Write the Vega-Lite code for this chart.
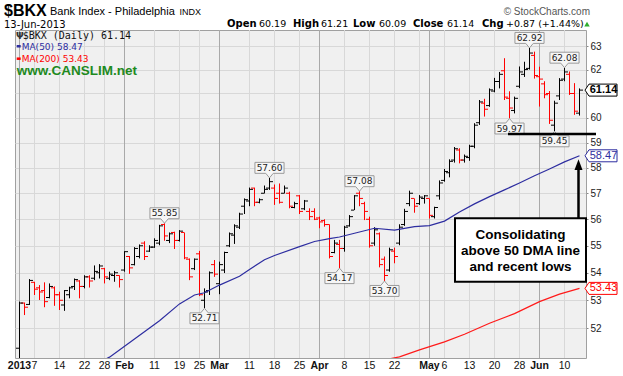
{
"$schema":"https://vega.github.io/schema/vega-lite/v6.json",
"width":571,"height":328,
"autosize":{"type":"none"},
"padding":{"left":15,"top":30,"right":37,"bottom":18},
"background":"#ffffff",
"config":{"view":{"fill":"#f0f0f0","stroke":"#a0a0a0","strokeWidth":1}},
"datasets":{
"one":[{"k":0}],
"tags":[{"name":"close","v":61.14},{"name":"ma50","v":58.47},{"name":"ma200","v":53.43}],
"bars":[
{"d":"2013-01-02","o":51.3,"h":52.95,"l":50.8,"c":52.9},
{"d":"2013-01-03","o":52.9,"h":52.92,"l":52.47,"c":52.75},
{"d":"2013-01-04","o":52.85,"h":53.77,"l":52.83,"c":53.72},
{"d":"2013-01-07","o":53.65,"h":53.67,"l":53.19,"c":53.4},
{"d":"2013-01-08","o":53.45,"h":53.55,"l":53.01,"c":53.3},
{"d":"2013-01-09","o":53.35,"h":53.65,"l":52.75,"c":52.95},
{"d":"2013-01-10","o":53.1,"h":53.61,"l":53.07,"c":53.5},
{"d":"2013-01-11","o":53.45,"h":53.5,"l":52.8,"c":53.2},
{"d":"2013-01-14","o":53.2,"h":53.31,"l":52.65,"c":53.0},
{"d":"2013-01-15","o":52.83,"h":53.37,"l":52.62,"c":53.35},
{"d":"2013-01-16","o":53.2,"h":53.49,"l":53.07,"c":53.45},
{"d":"2013-01-17","o":53.5,"h":53.79,"l":53.37,"c":53.75},
{"d":"2013-01-18","o":53.7,"h":53.73,"l":53.07,"c":53.5},
{"d":"2013-01-22","o":53.5,"h":53.91,"l":53.43,"c":53.85},
{"d":"2013-01-23","o":53.85,"h":53.91,"l":53.46,"c":53.7},
{"d":"2013-01-24","o":53.8,"h":54.27,"l":53.73,"c":54.05},
{"d":"2013-01-25","o":54.0,"h":54.32,"l":53.79,"c":54.25},
{"d":"2013-01-28","o":54.15,"h":54.18,"l":53.61,"c":53.85,"m50":50.9},
{"d":"2013-01-29","o":53.8,"h":54.04,"l":53.73,"c":53.95,"m50":50.99},
{"d":"2013-01-30","o":53.9,"h":54.07,"l":53.67,"c":54.0},
{"d":"2013-01-31","o":53.9,"h":53.91,"l":53.46,"c":53.75},
{"d":"2013-02-01","o":54.1,"h":54.8,"l":54.04,"c":54.78},
{"d":"2013-02-04","o":54.6,"h":54.62,"l":53.96,"c":54.18},
{"d":"2013-02-05","o":54.3,"h":54.95,"l":54.27,"c":54.9,"m50":51.62},
{"d":"2013-02-06","o":54.6,"h":55.05,"l":54.53,"c":55.0},
{"d":"2013-02-07","o":55.1,"h":55.17,"l":54.47,"c":54.6},
{"d":"2013-02-08","o":54.8,"h":55.02,"l":54.77,"c":54.95},
{"d":"2013-02-11","o":54.95,"h":55.28,"l":54.92,"c":55.2},
{"d":"2013-02-12","o":55.1,"h":55.79,"l":55.02,"c":55.75,"m50":52.27},
{"d":"2013-02-13","o":55.8,"h":55.85,"l":55.19,"c":55.37,"k":"hi"},
{"d":"2013-02-14","o":55.2,"h":55.5,"l":55.1,"c":55.45},
{"d":"2013-02-15","o":55.5,"h":55.53,"l":54.88,"c":55.2},
{"d":"2013-02-19","o":55.2,"h":55.59,"l":55.16,"c":55.55,"m50":52.87},
{"d":"2013-02-20","o":55.5,"h":55.5,"l":54.5,"c":54.55},
{"d":"2013-02-21","o":54.5,"h":54.53,"l":53.73,"c":53.85},
{"d":"2013-02-22","o":54.15,"h":54.53,"l":54.1,"c":54.5,"m50":53.19},
{"d":"2013-02-25","o":54.7,"h":54.81,"l":53.15,"c":53.2},
{"d":"2013-02-26","o":53.0,"h":53.43,"l":52.71,"c":53.3,"k":"lo","m50":53.27},
{"d":"2013-02-27","o":53.35,"h":54.05,"l":53.19,"c":54.0},
{"d":"2013-02-28","o":54.3,"h":54.47,"l":53.85,"c":53.95},
{"d":"2013-03-01","o":53.6,"h":54.41,"l":53.22,"c":54.3,"m50":53.55},
{"d":"2013-03-04","o":54.1,"h":54.78,"l":53.99,"c":54.75},
{"d":"2013-03-05","o":55.0,"h":55.5,"l":54.95,"c":55.45},
{"d":"2013-03-06","o":55.4,"h":55.81,"l":55.07,"c":55.75},
{"d":"2013-03-07","o":55.7,"h":56.25,"l":55.63,"c":56.2,"m50":53.87},
{"d":"2013-03-08","o":56.5,"h":56.8,"l":56.2,"c":56.75},
{"d":"2013-03-11","o":56.7,"h":57.22,"l":56.5,"c":57.15,"m50":54.12},
{"d":"2013-03-12","o":57.2,"h":57.22,"l":56.5,"c":56.65},
{"d":"2013-03-13","o":56.65,"h":56.8,"l":56.61,"c":56.75},
{"d":"2013-03-14","o":57.0,"h":57.3,"l":56.99,"c":57.15,"m50":54.48},
{"d":"2013-03-15","o":57.2,"h":57.6,"l":57.13,"c":57.45,"k":"hi"},
{"d":"2013-03-18","o":57.2,"h":57.34,"l":56.55,"c":56.8,"m50":54.64},
{"d":"2013-03-19","o":57.0,"h":57.38,"l":56.6,"c":56.65},
{"d":"2013-03-20","o":57.0,"h":57.3,"l":56.99,"c":57.2},
{"d":"2013-03-21","o":57.0,"h":57.06,"l":56.42,"c":56.5},
{"d":"2013-03-22","o":56.45,"h":56.67,"l":56.42,"c":56.6},
{"d":"2013-03-25","o":56.9,"h":56.93,"l":56.2,"c":56.3,"m50":54.97},
{"d":"2013-03-26","o":56.4,"h":56.74,"l":56.35,"c":56.7},
{"d":"2013-03-27","o":56.3,"h":56.42,"l":55.97,"c":56.1},
{"d":"2013-03-28","o":56.3,"h":56.42,"l":55.97,"c":56.0,"m50":55.16},
{"d":"2013-04-01","o":56.05,"h":56.1,"l":55.66,"c":55.9},
{"d":"2013-04-02","o":55.95,"h":56.0,"l":55.72,"c":55.8},
{"d":"2013-04-03","o":55.8,"h":55.81,"l":54.53,"c":54.6,"m50":55.27},
{"d":"2013-04-04","o":54.75,"h":55.22,"l":54.72,"c":55.1},
{"d":"2013-04-05","o":55.05,"h":55.22,"l":54.17,"c":54.9,"k":"lo","m50":55.33},
{"d":"2013-04-08","o":54.9,"h":55.75,"l":54.78,"c":55.7},
{"d":"2013-04-09","o":55.75,"h":56.16,"l":55.72,"c":56.1},
{"d":"2013-04-10","o":56.35,"h":56.93,"l":56.35,"c":56.9,"m50":55.47},
{"d":"2013-04-11","o":57.0,"h":57.08,"l":56.5,"c":56.8,"k":"hi"},
{"d":"2013-04-12","o":56.6,"h":56.67,"l":55.97,"c":56.3},
{"d":"2013-04-15","o":56.0,"h":56.1,"l":54.93,"c":55.0},
{"d":"2013-04-16","o":55.1,"h":55.7,"l":55.0,"c":55.6,"m50":55.66},
{"d":"2013-04-17","o":55.45,"h":55.5,"l":54.2,"c":54.3},
{"d":"2013-04-18","o":54.5,"h":54.6,"l":53.7,"c":53.9,"k":"lo"},
{"d":"2013-04-19","o":54.1,"h":54.93,"l":54.04,"c":54.85,"m200":50.93},
{"d":"2013-04-22","o":54.8,"h":54.93,"l":54.35,"c":54.6,"m50":55.59},
{"d":"2013-04-23","o":55.1,"h":55.81,"l":55.02,"c":55.7,"m200":51.0},
{"d":"2013-04-24","o":55.8,"h":56.4,"l":55.75,"c":56.3},
{"d":"2013-04-25","o":56.6,"h":57.1,"l":56.5,"c":57.0},
{"d":"2013-04-26","o":56.8,"h":56.8,"l":56.25,"c":56.5,"m50":55.72},
{"d":"2013-04-29","o":56.6,"h":56.93,"l":56.55,"c":56.85,"m200":51.24},
{"d":"2013-04-30","o":56.8,"h":56.93,"l":56.6,"c":56.9},
{"d":"2013-05-01","o":56.8,"h":56.8,"l":56.03,"c":56.15,"m50":55.76},
{"d":"2013-05-02","o":56.1,"h":56.48,"l":56.03,"c":56.45},
{"d":"2013-05-03","o":56.9,"h":57.5,"l":56.75,"c":57.4},
{"d":"2013-05-06","o":57.5,"h":57.95,"l":57.45,"c":57.85,"m50":55.93,"m200":51.52},
{"d":"2013-05-07","o":57.8,"h":58.33,"l":57.62,"c":58.25},
{"d":"2013-05-08","o":58.3,"h":58.82,"l":58.2,"c":58.75},
{"d":"2013-05-09","o":58.7,"h":58.77,"l":58.17,"c":58.3,"m50":56.28},
{"d":"2013-05-10","o":58.3,"h":58.52,"l":58.2,"c":58.45,"m200":51.79},
{"d":"2013-05-13","o":58.4,"h":58.91,"l":58.27,"c":58.85},
{"d":"2013-05-14","o":58.85,"h":59.78,"l":58.77,"c":59.7,"m50":56.59},
{"d":"2013-05-15","o":59.8,"h":60.73,"l":59.71,"c":60.65},
{"d":"2013-05-16","o":60.6,"h":60.78,"l":60.05,"c":60.35},
{"d":"2013-05-17","o":60.5,"h":61.21,"l":60.45,"c":61.15,"m50":56.87,"m200":52.18},
{"d":"2013-05-20","o":61.1,"h":61.65,"l":61.05,"c":61.5},
{"d":"2013-05-21","o":61.5,"h":61.9,"l":61.21,"c":61.8},
{"d":"2013-05-22","o":61.95,"h":62.48,"l":60.73,"c":60.85,"m50":57.13},
{"d":"2013-05-23","o":60.8,"h":61.09,"l":59.97,"c":60.4,"k":"lo"},
{"d":"2013-05-24","o":60.3,"h":60.87,"l":60.18,"c":60.8,"m200":52.52},
{"d":"2013-05-28","o":61.3,"h":62.13,"l":61.22,"c":61.9,"m50":57.4},
{"d":"2013-05-29","o":61.8,"h":62.33,"l":61.69,"c":62.0},
{"d":"2013-05-30","o":62.05,"h":62.92,"l":62.0,"c":62.7,"k":"hi"},
{"d":"2013-05-31","o":62.6,"h":62.76,"l":61.62,"c":61.75,"m50":57.68},
{"d":"2013-06-03","o":61.7,"h":62.12,"l":60.46,"c":61.6,"m200":52.95},
{"d":"2013-06-04","o":61.4,"h":61.51,"l":60.8,"c":60.95},
{"d":"2013-06-05","o":61.0,"h":61.1,"l":59.75,"c":59.9,"m50":57.95},
{"d":"2013-06-06","o":59.7,"h":60.7,"l":59.45,"c":60.6,"k":"lo"},
{"d":"2013-06-07","o":60.9,"h":61.64,"l":60.73,"c":61.55,"m200":53.22},
{"d":"2013-06-10","o":61.6,"h":62.08,"l":61.51,"c":61.9,"k":"hi","m50":58.23},
{"d":"2013-06-11","o":61.8,"h":61.92,"l":60.94,"c":61.0},
{"d":"2013-06-12","o":61.0,"h":61.43,"l":60.12,"c":60.27},
{"d":"2013-06-13","o":60.19,"h":61.21,"l":60.09,"c":61.14,"m50":58.47,"m200":53.43}
]},
"layer":[
{"data":{"name":"bars"},
 "transform":[{"window":[{"op":"row_number","as":"n"},{"op":"lag","field":"d","as":"pd"}]},
  {"calculate":"(!isValid(datum.pd) || substring(datum.d,5,7) != substring(datum.pd,5,7)) ? datum.n : null","as":"msn"},
  {"window":[{"op":"max","field":"msn","as":"lastMs"}],"frame":[null,0]},
  {"filter":"!isValid(datum.msn) && isValid(datum.pd) && (toDate(datum.d) - toDate(datum.pd)) > 129600000 && (datum.n - datum.lastMs) > 1"}],
 "mark":{"type":"rule","color":"#d8d8d8","strokeWidth":1},
 "encoding":{"x":{"field":"n","type":"quantitative","scale":{"domain":[0.1,114.3],"nice":false,"zero":false},
   "axis":{"title":null,"labels":false,"ticks":false,"grid":false,"domain":false}}}},
{"data":{"name":"bars"},
 "transform":[{"window":[{"op":"row_number","as":"n"},{"op":"lag","field":"d","as":"pd"}]},
  {"filter":"!isValid(datum.pd) || substring(datum.d,5,7) != substring(datum.pd,5,7)"}],
 "mark":{"type":"rule","color":"#a9a9a9","strokeWidth":1},
 "encoding":{"x":{"field":"n","type":"quantitative"}}},
{"data":{"name":"bars"},
 "transform":[{"window":[{"op":"row_number","as":"n"},{"op":"lag","field":"c","as":"pc"}]}],
 "mark":{"type":"rule","strokeWidth":1,"clip":true},
 "encoding":{
  "x":{"field":"n","type":"quantitative"},
  "y":{"field":"l","type":"quantitative","scale":{"type":"log","domain":[50.96,63.69],"nice":false,"zero":false},
   "axis":{"title":null,"orient":"right","values":[52,53,54,55,56,57,58,59,60,61,62,63],"format":"d",
    "labelExpr":"datum.value == 61 ? '' : datum.label",
    "grid":true,"gridColor":"#d8d8d8","domain":false,"tickColor":"#888888","tickSize":2,
    "labelFont":"Liberation Sans","labelFontSize":10,"labelColor":"#222222","labelPadding":2,
    "labelFlush":false,"labelBound":false}},
  "y2":{"field":"h"},
  "color":{"condition":{"test":"datum.c < datum.pc","value":"#ff0000"},"value":"#000000"}
 }},
{"data":{"name":"bars"},
 "transform":[{"window":[{"op":"row_number","as":"n"},{"op":"lag","field":"d","as":"pd"}]},
  {"calculate":"(!isValid(datum.pd) || substring(datum.d,5,7) != substring(datum.pd,5,7)) ? datum.n : null","as":"msn"},
  {"window":[{"op":"max","field":"msn","as":"lastMs"}],"frame":[null,0]},
  {"window":[{"op":"min","field":"msn","as":"nextMs"}],"frame":[0,null]},
  {"filter":"!isValid(datum.msn) && isValid(datum.pd) && (toDate(datum.d) - toDate(datum.pd)) > 129600000 && (datum.n - datum.lastMs) > 1 && (!isValid(datum.nextMs) || (datum.nextMs - datum.n) > 2)"},
  {"calculate":"'' + toNumber(substring(datum.d,8,10))","as":"lab"}],
 "mark":{"type":"text","align":"center","baseline":"middle","font":"Liberation Sans","fontSize":10.5,"color":"#111111"},
 "encoding":{"x":{"field":"n","type":"quantitative"},"y":{"datum":50.67},"text":{"field":"lab"}}},
{"data":{"name":"bars"},
 "transform":[{"window":[{"op":"row_number","as":"n"},{"op":"lag","field":"d","as":"pd"}]},
  {"filter":"!isValid(datum.pd) || substring(datum.d,5,7) != substring(datum.pd,5,7)"},
  {"calculate":"substring(datum.d,5,7) == '01' ? utcFormat(toDate(datum.d), '%Y') : utcFormat(toDate(datum.d), '%b')","as":"lab"}],
 "mark":{"type":"text","align":"center","baseline":"middle","font":"Liberation Sans","fontSize":10.5,"fontWeight":"bold","color":"#111111"},
 "encoding":{"x":{"field":"n","type":"quantitative"},"y":{"datum":50.67},"text":{"field":"lab"}}},
{"data":{"name":"bars"},
 "transform":[{"window":[{"op":"row_number","as":"n"},{"op":"lag","field":"c","as":"pc"}]}],
 "mark":{"type":"tick","orient":"horizontal","size":3,"thickness":1,"xOffset":-2,"opacity":1,"clip":true},
 "encoding":{"x":{"field":"n","type":"quantitative"},"y":{"field":"o","type":"quantitative"},
  "color":{"condition":{"test":"datum.c < datum.pc","value":"#ff0000"},"value":"#000000"}}},
{"data":{"name":"bars"},
 "transform":[{"window":[{"op":"row_number","as":"n"},{"op":"lag","field":"c","as":"pc"}]}],
 "mark":{"type":"tick","orient":"horizontal","size":3,"thickness":1,"xOffset":2,"opacity":1,"clip":true},
 "encoding":{"x":{"field":"n","type":"quantitative"},"y":{"field":"c","type":"quantitative"},
  "color":{"condition":{"test":"datum.c < datum.pc","value":"#ff0000"},"value":"#000000"}}},
{"data":{"name":"bars"},
 "transform":[{"window":[{"op":"row_number","as":"n"}]},{"filter":"isValid(datum.m50)"}],
 "mark":{"type":"line","color":"#2d2da0","strokeWidth":1.2,"clip":true},
 "encoding":{"x":{"field":"n","type":"quantitative"},"y":{"field":"m50","type":"quantitative"}}},
{"data":{"name":"bars"},
 "transform":[{"window":[{"op":"row_number","as":"n"}]},{"filter":"isValid(datum.m200)"}],
 "mark":{"type":"line","color":"#ff1a1a","strokeWidth":1.2,"clip":true},
 "encoding":{"x":{"field":"n","type":"quantitative"},"y":{"field":"m200","type":"quantitative"}}},
{"data":{"name":"bars"},
 "transform":[{"window":[{"op":"row_number","as":"n"}]},{"filter":"datum.k == 'hi'"}],
 "mark":{"type":"point","shape":"M0,0L-0.25,-0.3L-0.97,-0.3L-0.97,-1.03L0.97,-1.03L0.97,-0.3L0.25,-0.3Z","size":900,"fill":"#f6f6f6","stroke":"#9a9a9a","strokeWidth":1,"opacity":1,"fillOpacity":1},
 "encoding":{"x":{"field":"n","type":"quantitative"},"y":{"field":"h","type":"quantitative"}}},
{"data":{"name":"bars"},
 "transform":[{"window":[{"op":"row_number","as":"n"}]},{"filter":"datum.k == 'hi'"}],
 "mark":{"type":"text","dy":-10,"baseline":"middle","align":"center","font":"DejaVu Sans","fontSize":9,"color":"#222222"},
 "encoding":{"x":{"field":"n","type":"quantitative"},"y":{"field":"h","type":"quantitative"},"text":{"field":"h","format":".2f"}}},
{"data":{"name":"bars"},
 "transform":[{"window":[{"op":"row_number","as":"n"}]},{"filter":"datum.k == 'lo'"}],
 "mark":{"type":"point","shape":"M0,0L-0.25,0.3L-0.97,0.3L-0.97,1.03L0.97,1.03L0.97,0.3L0.25,0.3Z","size":900,"fill":"#f6f6f6","stroke":"#9a9a9a","strokeWidth":1,"opacity":1,"fillOpacity":1},
 "encoding":{"x":{"field":"n","type":"quantitative"},"y":{"field":"l","type":"quantitative"}}},
{"data":{"name":"bars"},
 "transform":[{"window":[{"op":"row_number","as":"n"}]},{"filter":"datum.k == 'lo'"}],
 "mark":{"type":"text","dy":10,"baseline":"middle","align":"center","font":"DejaVu Sans","fontSize":9,"color":"#222222"},
 "encoding":{"x":{"field":"n","type":"quantitative"},"y":{"field":"l","type":"quantitative"},"text":{"field":"l","format":".2f"}}},
{"data":{"name":"one"},
 "mark":{"type":"rule","color":"#000000","strokeWidth":2.5},
 "encoding":{"x":{"datum":98.7},"x2":{"datum":116.3},"y":{"datum":59.34}}},
{"data":{"name":"one"},
 "mark":{"type":"rect","fill":"#ffffff","stroke":"#000000","strokeWidth":2},
 "encoding":{"x":{"datum":88.1},"x2":{"datum":114.3},"y":{"datum":56.04},"y2":{"datum":53.67}}},
{"data":{"name":"one"},
 "mark":{"type":"text","text":["Consolidating","above 50 DMA line","and recent lows"],"lineHeight":16,"align":"center","baseline":"middle","font":"Liberation Sans","fontSize":13.5,"fontWeight":"bold","color":"#000000"},
 "encoding":{"x":{"datum":101.2},"y":{"datum":55.42}}},
{"data":{"name":"one"},
 "mark":{"type":"rule","color":"#000000","strokeWidth":2.5},
 "encoding":{"x":{"datum":112.8},"y":{"datum":56.04},"y2":{"datum":57.95}}},
{"data":{"name":"one"},
 "mark":{"type":"point","shape":"M0,-1L0.75,1L-0.75,1Z","size":115,"fill":"#000000","strokeWidth":0,"opacity":1,"fillOpacity":1},
 "encoding":{"x":{"datum":112.8},"y":{"datum":58.12}}},
{"data":{"name":"tags"},
 "mark":{"type":"point","shape":"M-1,0L-0.75,-0.375L1,-0.375L1,0.375L-0.75,0.375Z","size":1024,"fill":"#ffffff","strokeWidth":1,"opacity":1,"fillOpacity":1},
 "encoding":{"x":{"datum":117.3},"y":{"field":"v","type":"quantitative"},
  "stroke":{"condition":[{"test":"datum.name == 'ma50'","value":"#2d2da0"},{"test":"datum.name == 'ma200'","value":"#ff0000"}],"value":"#000000"}}},
{"data":{"name":"tags"},
 "transform":[{"filter":"datum.name == 'close'"}],
 "mark":{"type":"text","align":"center","baseline":"middle","font":"Liberation Sans","fontSize":11,"fontWeight":"bold","color":"#000000"},
 "encoding":{"x":{"datum":117.8},"y":{"field":"v","type":"quantitative"},"text":{"field":"v","format":".2f"}}},
{"data":{"name":"tags"},
 "transform":[{"filter":"datum.name != 'close'"}],
 "mark":{"type":"text","align":"center","baseline":"middle","font":"Liberation Sans","fontSize":11},
 "encoding":{"x":{"datum":117.8},"y":{"field":"v","type":"quantitative"},"text":{"field":"v","format":".2f"},
  "color":{"condition":{"test":"datum.name == 'ma50'","value":"#2d2da0"},"value":"#ff0000"}}},
{"data":{"name":"one"},"mark":{"type":"text","text":"$BKX","align":"left","baseline":"alphabetic","font":"Liberation Sans","fontSize":16,"fontWeight":"bold","color":"#000000"},
 "encoding":{"x":{"datum":-2.1},"y":{"datum":64.3}}},
{"data":{"name":"one"},"mark":{"type":"text","text":"Bank Index - Philadelphia","align":"left","baseline":"alphabetic","font":"Liberation Sans","fontSize":11,"color":"#000000"},
 "encoding":{"x":{"datum":7.1},"y":{"datum":64.34}}},
{"data":{"name":"one"},"mark":{"type":"text","text":"INDX","align":"left","baseline":"alphabetic","font":"Liberation Sans","fontSize":9,"color":"#000000"},
 "encoding":{"x":{"datum":33.0},"y":{"datum":64.34}}},
{"data":{"name":"one"},"mark":{"type":"text","text":"© StockCharts.com","align":"right","baseline":"alphabetic","font":"Liberation Sans","fontSize":10,"color":"#555555"},
 "encoding":{"x":{"datum":115.1},"y":{"datum":64.36}}},
{"data":{"name":"one"},"mark":{"type":"text","text":"13-Jun-2013","align":"left","baseline":"alphabetic","font":"DejaVu Sans","fontSize":10,"color":"#000000"},
 "encoding":{"x":{"datum":-2.1},"y":{"datum":63.78}}},
{"data":{"name":"one"},"mark":{"type":"text","text":"Open","align":"left","baseline":"alphabetic","font":"DejaVu Sans","fontSize":10,"fontWeight":"bold","color":"#000000"},
 "encoding":{"x":{"datum":42.5},"y":{"datum":63.8}}},
{"data":{"name":"one"},"mark":{"type":"text","text":"60.19","align":"left","baseline":"alphabetic","font":"DejaVu Sans","fontSize":9.5,"color":"#000000"},
 "encoding":{"x":{"datum":48.9},"y":{"datum":63.8}}},
{"data":{"name":"one"},"mark":{"type":"text","text":"High","align":"left","baseline":"alphabetic","font":"DejaVu Sans","fontSize":10,"fontWeight":"bold","color":"#000000"},
 "encoding":{"x":{"datum":55.7},"y":{"datum":63.8}}},
{"data":{"name":"one"},"mark":{"type":"text","text":"61.21","align":"left","baseline":"alphabetic","font":"DejaVu Sans","fontSize":9.5,"color":"#000000"},
 "encoding":{"x":{"datum":61.3},"y":{"datum":63.8}}},
{"data":{"name":"one"},"mark":{"type":"text","text":"Low","align":"left","baseline":"alphabetic","font":"DejaVu Sans","fontSize":10,"fontWeight":"bold","color":"#000000"},
 "encoding":{"x":{"datum":67.7},"y":{"datum":63.8}}},
{"data":{"name":"one"},"mark":{"type":"text","text":"60.09","align":"left","baseline":"alphabetic","font":"DejaVu Sans","fontSize":9.5,"color":"#000000"},
 "encoding":{"x":{"datum":72.9},"y":{"datum":63.8}}},
{"data":{"name":"one"},"mark":{"type":"text","text":"Close","align":"left","baseline":"alphabetic","font":"DejaVu Sans","fontSize":10,"fontWeight":"bold","color":"#000000"},
 "encoding":{"x":{"datum":79.7},"y":{"datum":63.8}}},
{"data":{"name":"one"},"mark":{"type":"text","text":"61.14","align":"left","baseline":"alphabetic","font":"DejaVu Sans","fontSize":9.5,"color":"#000000"},
 "encoding":{"x":{"datum":86.5},"y":{"datum":63.8}}},
{"data":{"name":"one"},"mark":{"type":"text","text":"Chg","align":"left","baseline":"alphabetic","font":"DejaVu Sans","fontSize":10,"fontWeight":"bold","color":"#000000"},
 "encoding":{"x":{"datum":93.5},"y":{"datum":63.8}}},
{"data":{"name":"one"},"mark":{"type":"text","text":"+0.87 (+1.44%)","align":"left","baseline":"alphabetic","font":"DejaVu Sans","fontSize":9.5,"color":"#000000"},
 "encoding":{"x":{"datum":98.3},"y":{"datum":63.8}}},
{"data":{"name":"one"},"mark":{"type":"point","shape":"triangle-up","size":30,"fill":"#2fae2f","strokeWidth":0,"opacity":1,"fillOpacity":1},
 "encoding":{"x":{"datum":114.5},"y":{"datum":63.95}}},
{"data":{"name":"one"},"mark":{"type":"text","text":"Ψ","align":"left","baseline":"alphabetic","font":"DejaVu Sans","fontSize":9,"fontWeight":"bold","color":"#333333"},
 "encoding":{"x":{"datum":0.3},"y":{"datum":63.31}}},
{"data":{"name":"one"},"mark":{"type":"text","text":"$BKX (Daily) 61.14","align":"left","baseline":"alphabetic","font":"DejaVu Sans Mono","fontSize":10,"color":"#111111"},
 "encoding":{"x":{"datum":1.64},"y":{"datum":63.31}}},
{"data":{"name":"one"},"mark":{"type":"rule","color":"#2d2da0","strokeWidth":2.5},
 "encoding":{"x":{"datum":0.44},"x2":{"datum":1.24},"y":{"datum":62.99}}},
{"data":{"name":"one"},"mark":{"type":"text","text":"MA(50) 58.47","align":"left","baseline":"alphabetic","font":"DejaVu Sans","fontSize":9,"color":"#2d2da0"},
 "encoding":{"x":{"datum":1.44},"y":{"datum":62.84}}},
{"data":{"name":"one"},"mark":{"type":"rule","color":"#ff0000","strokeWidth":2.5},
 "encoding":{"x":{"datum":0.44},"x2":{"datum":1.24},"y":{"datum":62.46}}},
{"data":{"name":"one"},"mark":{"type":"text","text":"MA(200) 53.43","align":"left","baseline":"alphabetic","font":"DejaVu Sans","fontSize":9,"color":"#ff0000"},
 "encoding":{"x":{"datum":1.44},"y":{"datum":62.32}}},
{"data":{"name":"one"},"mark":{"type":"text","text":"www.CANSLIM.net","align":"left","baseline":"alphabetic","font":"Liberation Sans","fontSize":13.5,"fontWeight":"bold","color":"#1e8a1e"},
 "encoding":{"x":{"datum":0.44},"y":{"datum":61.76}}}
]
}
